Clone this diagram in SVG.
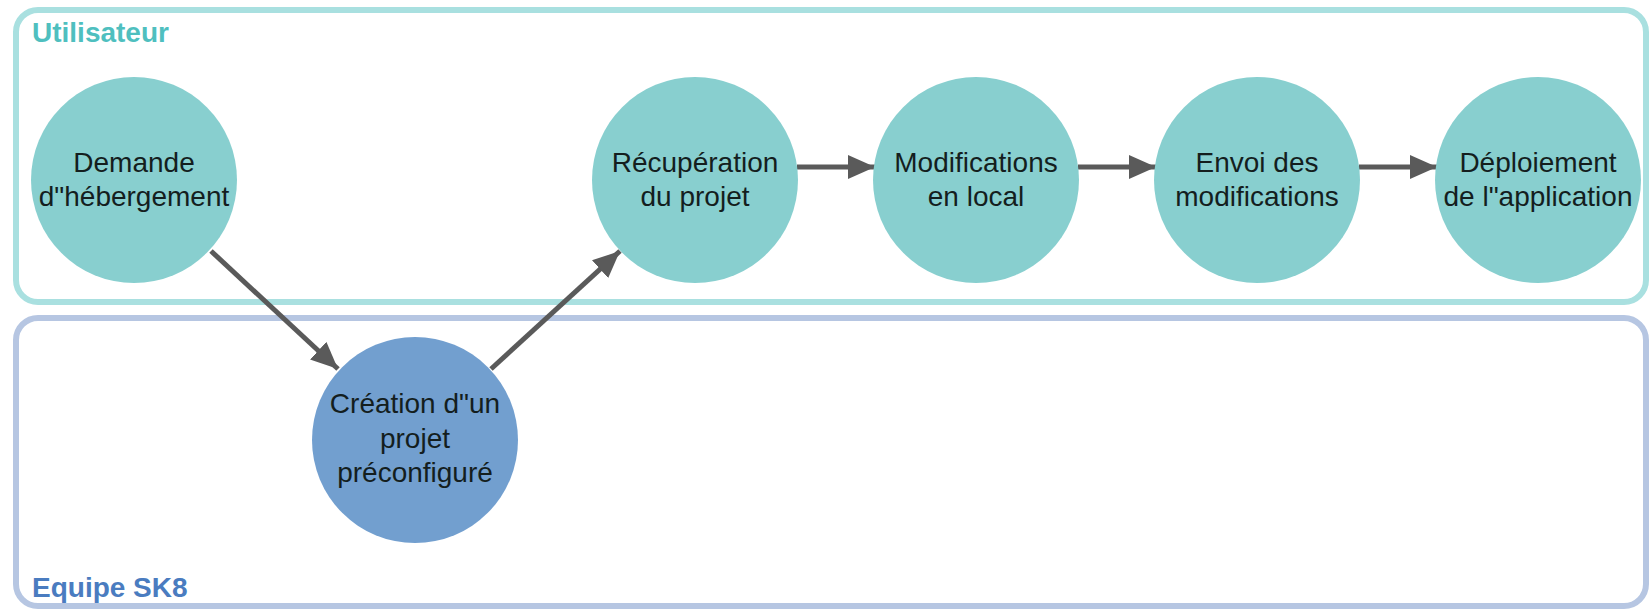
<svg xmlns="http://www.w3.org/2000/svg" width="1652" height="611" viewBox="0 0 1652 611">
<style>
.lane{fill:#ffffff;stroke-width:6}
.lane-u{stroke:#a9e0e0}
.lane-e{stroke:#b6c6e2}
.lbl{font-family:"Liberation Sans",Arial,sans-serif;font-size:28px;font-weight:bold}
.node-u{fill:#88cfcf}
.node-e{fill:#729fcf}
.txt{font-family:"Liberation Sans",Arial,sans-serif;font-size:28px;fill:#141e1e;text-anchor:middle}
.edge{stroke:#5a5a5a;stroke-width:5;fill:none}
</style>
<defs>
<marker id="arr" markerUnits="userSpaceOnUse" markerWidth="28" markerHeight="26" refX="27" refY="13" orient="auto" viewBox="0 0 28 26">
<path d="M0,1 L27,13 L0,25 Z" fill="#5a5a5a"/>
</marker>
</defs>
<rect width="1652" height="611" fill="#ffffff"/>
<g id="lane-utilisateur">
<rect class="lane lane-u" x="16" y="10" width="1630" height="292" rx="22"/>
<text class="lbl" x="32" y="42" fill="#4fbfbf">Utilisateur</text>
</g>
<g id="lane-equipe">
<rect class="lane lane-e" x="16" y="318" width="1630" height="288" rx="22"/>
<text class="lbl" x="32" y="597" fill="#4a7cc0">Equipe SK8</text>
</g>
<g id="connectors">
<line class="edge" x1="211" y1="251" x2="338" y2="369" marker-end="url(#arr)"/>
<line class="edge" x1="491" y1="369" x2="620" y2="251" marker-end="url(#arr)"/>
<line class="edge" x1="797" y1="167" x2="875" y2="167" marker-end="url(#arr)"/>
<line class="edge" x1="1078" y1="167" x2="1156" y2="167" marker-end="url(#arr)"/>
<line class="edge" x1="1359" y1="167" x2="1437" y2="167" marker-end="url(#arr)"/>
</g>
<g id="node-demande">
<circle class="node-u" cx="134" cy="180" r="103"/>
<text class="txt" x="134" y="172">Demande</text>
<text class="txt" x="134" y="206">d"hébergement</text>
</g>
<g id="node-creation">
<circle class="node-e" cx="415" cy="440" r="103"/>
<text class="txt" x="415" y="413">Création d"un</text>
<text class="txt" x="415" y="448">projet</text>
<text class="txt" x="415" y="482">préconfiguré</text>
</g>
<g id="node-recuperation">
<circle class="node-u" cx="695" cy="180" r="103"/>
<text class="txt" x="695" y="172">Récupération</text>
<text class="txt" x="695" y="206">du projet</text>
</g>
<g id="node-modifications">
<circle class="node-u" cx="976" cy="180" r="103"/>
<text class="txt" x="976" y="172">Modifications</text>
<text class="txt" x="976" y="206">en local</text>
</g>
<g id="node-envoi">
<circle class="node-u" cx="1257" cy="180" r="103"/>
<text class="txt" x="1257" y="172">Envoi des</text>
<text class="txt" x="1257" y="206">modifications</text>
</g>
<g id="node-deploiement">
<circle class="node-u" cx="1538" cy="180" r="103"/>
<text class="txt" x="1538" y="172">Déploiement</text>
<text class="txt" x="1538" y="206">de l"application</text>
</g>
</svg>
